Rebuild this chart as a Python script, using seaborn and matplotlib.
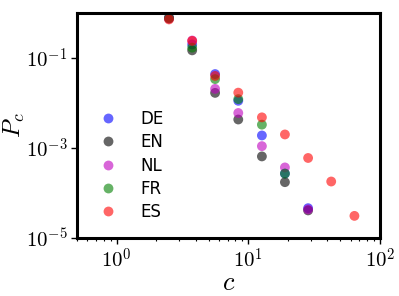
import numpy as np
import pandas as pd
import matplotlib
matplotlib.use("Agg")
import matplotlib.pyplot as plt
import matplotlib.ticker as mticker
import seaborn as sns

# degree bins (c) and P_c per language
c_vals = [2.5, 3.75, 5.6, 8.4, 12.7, 19.0, 28.5, 42.7, 64.1]
langs = ["DE", "EN", "NL", "FR", "ES"]
p_de = [0.76, 0.20, 0.044, 0.0112, 0.0019, 0.00027, 4.6e-5]
p_en = [0.80, 0.148, 0.0168, 0.0043, 0.00065, 0.000174, 4.1e-5]
p_nl = [0.76, 0.245, 0.0206, 0.0060, 0.0011, 0.00037, 4.3e-5]
p_fr = [0.76, 0.17, 0.034, 0.0122, 0.0033, 0.00027]
p_es = [0.72, 0.24, 0.040, 0.017, 0.0048, 0.0020, 0.0006, 0.00018, 3.1e-5]

rows = []
for lang, vals in zip(langs, [p_de, p_en, p_nl, p_fr, p_es]):
    for c, p in zip(c_vals, vals):
        rows.append({"c": c, "P": p, "lang": lang})
df = pd.DataFrame(rows)

sns.set_style("ticks")
plt.rcParams["mathtext.fontset"] = "cm"
plt.rcParams["font.family"] = ["DejaVu Sans"]

fig = plt.figure(figsize=(3.99, 2.96), dpi=100)
ax = fig.add_axes([0.193, 0.196, 0.759, 0.760])

palette = {"DE": (0, 0, 1), "EN": (0, 0, 0), "NL": (0.75, 0, 0.75),
           "FR": (0, 0.5, 0), "ES": (1, 0, 0)}
sns.scatterplot(data=df, x="c", y="P", hue="lang", hue_order=langs,
                palette=palette, s=50, alpha=0.6, linewidth=0, ax=ax)

ax.set_xscale("log")
ax.set_yscale("log")
ax.set_xlim(0.5, 100)
ax.set_ylim(1e-5, 1)
ax.set_yticks([1e-5, 1e-3, 1e-1])
ax.set_xticks([1, 10, 100])
pow_fmt = mticker.FuncFormatter(lambda v, pos: r"$10^{%d}$" % round(np.log10(v)))
ax.xaxis.set_major_formatter(pow_fmt)
ax.yaxis.set_major_formatter(pow_fmt)

ax.set_xlabel(r"$c$", fontsize=19, labelpad=-1, color="black")
ax.set_ylabel(r"$P_c$", fontsize=18, labelpad=-1, color="black")
ax.tick_params(axis="both", which="major", labelsize=15, length=4, width=1,
               direction="out", colors="black", pad=3)
ax.tick_params(axis="both", which="minor", length=2.5, width=0.8, direction="out",
               colors="black")
for sp in ax.spines.values():
    sp.set_visible(True)
    sp.set_linewidth(2.2)
    sp.set_color("black")

leg = ax.legend(loc="lower left", bbox_to_anchor=(0.015, 0.03), frameon=False,
                fontsize=12, markerscale=1.0, handletextpad=0.9, labelspacing=0.32,
                borderaxespad=0.2)
for h in leg.legend_handles:
    h.set_alpha(0.6)
for t in leg.get_texts():
    t.set_color("black")

fig.savefig("out.png", dpi=100)
